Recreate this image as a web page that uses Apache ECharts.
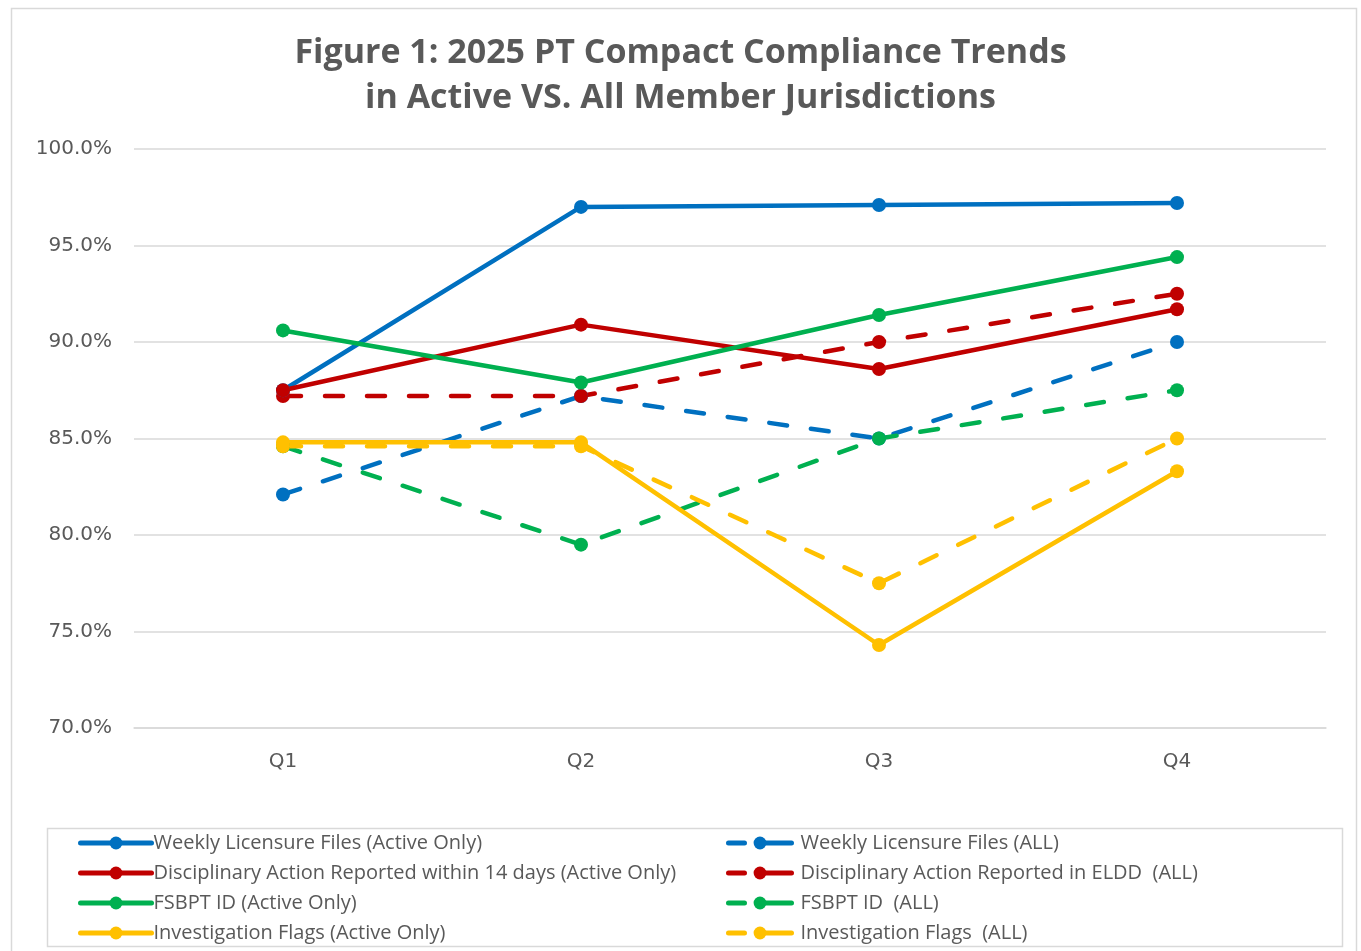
<!DOCTYPE html>
<html>
<head>
<meta charset="utf-8">
<script src="https://cdn.jsdelivr.net/npm/echarts@6/dist/echarts.min.js"></script>
<style>
html,body{margin:0;padding:0;background:#fff;}
#chart{width:1361px;height:951px;}
</style>
</head>
<body>
<div id="chart"></div>
<script>
const categories = ['Q1', 'Q2', 'Q3', 'Q4'];
const weeklyActive = [87.5, 97.0, 97.1, 97.2];
const weeklyAll = [82.1, 87.2, 85.0, 90.0];
const disciplinaryActive = [87.5, 90.9, 88.6, 91.7];
const disciplinaryAll = [87.2, 87.2, 90.0, 92.5];
const fsbptActive = [90.6, 87.9, 91.4, 94.4];
const fsbptAll = [84.6, 79.5, 85.0, 87.5];
const investigationActive = [84.8, 84.8, 74.3, 83.3];
const investigationAll = [84.6, 84.6, 77.5, 85.0];
const yTicks = [70, 75, 80, 85, 90, 95, 100];

const BLUE = '#0070C0', RED = '#C00000', GREEN = '#00B050', YELLOW = '#FFC000';
const TEXT = '#595959';
const AXIS_FONT = '"DejaVu Sans", sans-serif';
const LEGEND_FONT = '"Open Sans", sans-serif';
const TITLE_FONT = '"Open Sans", sans-serif';

const activeNames = [
  'Weekly Licensure Files (Active Only)',
  'Disciplinary Action Reported within 14 days (Active Only)',
  'FSBPT ID (Active Only)',
  'Investigation Flags (Active Only)'
];
const allNames = [
  'Weekly Licensure Files (ALL)',
  'Disciplinary Action Reported in ELDD  (ALL)',
  'FSBPT ID  (ALL)',
  'Investigation Flags  (ALL)'
];

function mk(name, data, color, dashed) {
  return {
    name: name,
    type: 'line',
    data: data,
    symbol: 'circle',
    symbolSize: 14,
    color: color,
    itemStyle: { color: color },
    lineStyle: dashed
      ? { width: 4.5, color: color, type: [18, 24], cap: 'round' }
      : { width: 4.5, color: color, type: 'solid', cap: 'round' },
    emphasis: { disabled: true },
    animation: false
  };
}

const chart = echarts.init(document.getElementById('chart'));
chart.setOption({
  backgroundColor: '#fff',
  animation: false,
  title: {
    text: 'Figure 1: 2025 PT Compact Compliance Trends\nin Active VS. All Member Jurisdictions',
    left: 'center',
    top: 26,
    textStyle: {
      fontFamily: TITLE_FONT,
      fontSize: 34,
      fontWeight: 'bold',
      color: TEXT,
      lineHeight: 45
    }
  },
  graphic: [
    { type: 'rect', shape: { x: 11.5, y: 8.5, width: 1345, height: 944 }, style: { fill: 'none', stroke: '#d9d9d9', lineWidth: 1.5 }, silent: true },
    { type: 'rect', shape: { x: 47.5, y: 828.5, width: 1295, height: 118 }, style: { fill: 'none', stroke: '#d9d9d9', lineWidth: 1.5 }, silent: true }
  ],
  grid: { left: 134, right: 35, top: 149, bottom: 223, containLabel: false },
  xAxis: {
    type: 'category',
    data: categories,
    boundaryGap: true,
    axisLine: { show: true, lineStyle: { color: '#d9d9d9', width: 1.5 } },
    axisTick: { show: false },
    axisLabel: { color: TEXT, fontFamily: AXIS_FONT, fontSize: 20, margin: 24 }
  },
  yAxis: {
    type: 'value',
    min: yTicks[0],
    max: yTicks[yTicks.length - 1],
    interval: 5,
    axisLine: { show: false },
    axisTick: { show: false },
    splitLine: { lineStyle: { color: '#d9d9d9', width: 1.5 } },
    axisLabel: {
      color: TEXT, fontFamily: AXIS_FONT, fontSize: 20, margin: 22,
      padding: [3, 0, 0, 0],
      formatter: v => v.toFixed(1) + '%'
    }
  },
  legend: [
    {
      data: activeNames,
      orient: 'vertical',
      left: 78,
      top: 833,
      itemWidth: 71,
      itemHeight: 16,
      itemGap: 10,
      padding: 0,
      lineStyle: { width: 5, cap: 'round' },
      textStyle: { color: TEXT, fontFamily: LEGEND_FONT, fontSize: 20, lineHeight: 20, padding: [0, 0, 0, -3] },
      selectedMode: false
    },
    {
      data: allNames,
      orient: 'vertical',
      left: 726,
      top: 833,
      itemWidth: 63,
      itemHeight: 16,
      itemGap: 10,
      padding: 0,
      lineStyle: { width: 5, cap: 'round', type: [16, 18, 30, 10] },
      textStyle: { color: TEXT, fontFamily: LEGEND_FONT, fontSize: 20, lineHeight: 20, padding: [0, 0, 0, 4] },
      selectedMode: false
    }
  ],
  series: [
    mk(allNames[0], weeklyAll, BLUE, true),
    mk(allNames[1], disciplinaryAll, RED, true),
    mk(allNames[2], fsbptAll, GREEN, true),
    mk(allNames[3], investigationAll, YELLOW, true),
    mk(activeNames[0], weeklyActive, BLUE, false),
    mk(activeNames[1], disciplinaryActive, RED, false),
    mk(activeNames[2], fsbptActive, GREEN, false),
    mk(activeNames[3], investigationActive, YELLOW, false)
  ]
});
</script>
</body>
</html>
